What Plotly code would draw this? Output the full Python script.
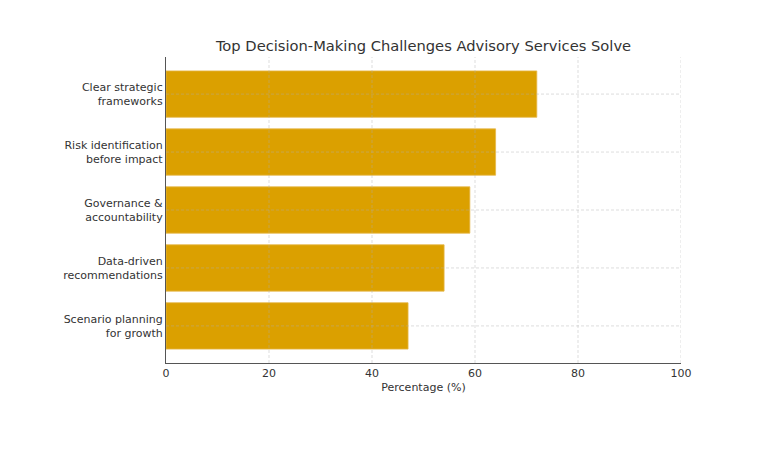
import plotly.graph_objects as go

categories = [
    "Clear strategic<br>frameworks",
    "Risk identification<br>before impact",
    "Governance &<br>accountability",
    "Data-driven<br>recommendations",
    "Scenario planning<br>for growth",
]
values = [72, 64, 59, 54, 47]
x_ticks = [0, 20, 40, 60, 80, 100]

bar_color = "#DBA000"
text_color = "#333333"
axis_color = "#555555"
grid_color = "rgba(175,175,175,0.42)"
font_family = "DejaVu Sans"

fig = go.Figure(
    go.Bar(
        x=values,
        y=categories,
        orientation="h",
        marker=dict(color=bar_color, line=dict(color="#E6B84A", width=0.8)),
        width=0.8,
    )
)

# gridlines drawn above the bars (as in the reference)
for t in x_ticks[1:]:
    fig.add_shape(type="line", xref="x", yref="paper", x0=t, x1=t, y0=0, y1=1,
                  line=dict(color=grid_color, width=1, dash="3px,2px"), layer="above")
for c in categories:
    fig.add_shape(type="line", xref="paper", yref="y", x0=0, x1=1, y0=c, y1=c,
                  line=dict(color=grid_color, width=1, dash="3px,2px"), layer="above")

fig.update_layout(
    width=768,
    height=457,
    margin=dict(l=158, r=95, t=49, b=102),
    paper_bgcolor="white",
    plot_bgcolor="white",
    font=dict(family=font_family, size=11, color=text_color),
    title=dict(
        text="Top Decision-Making Challenges Advisory Services Solve",
        x=(158 + 673) / 2 / 768,
        xanchor="center",
        y=1 - 38 / 457,
        yanchor="middle",
        font=dict(size=14.7, color=text_color, family=font_family),
    ),
    showlegend=False,
    bargap=0.2,
)

fig.update_xaxes(
    range=[0, 100],
    tickvals=x_ticks,
    ticktext=[str(t) for t in x_ticks],
    showgrid=False,
    showline=True,
    linecolor=axis_color,
    linewidth=1.2,
    ticks="",
    zeroline=False,
    title=dict(text="Percentage (%)", font=dict(size=11, color=text_color), standoff=4),
    tickfont=dict(size=11, color=text_color),
)

fig.update_yaxes(
    type="category",
    categoryorder="array",
    categoryarray=categories,
    range=[4.64, -0.64],
    showgrid=False,
    showline=True,
    linecolor=axis_color,
    linewidth=1.2,
    ticks="",
    zeroline=False,
    tickfont=dict(size=11, color=text_color),
)

fig.write_html("out.html")
